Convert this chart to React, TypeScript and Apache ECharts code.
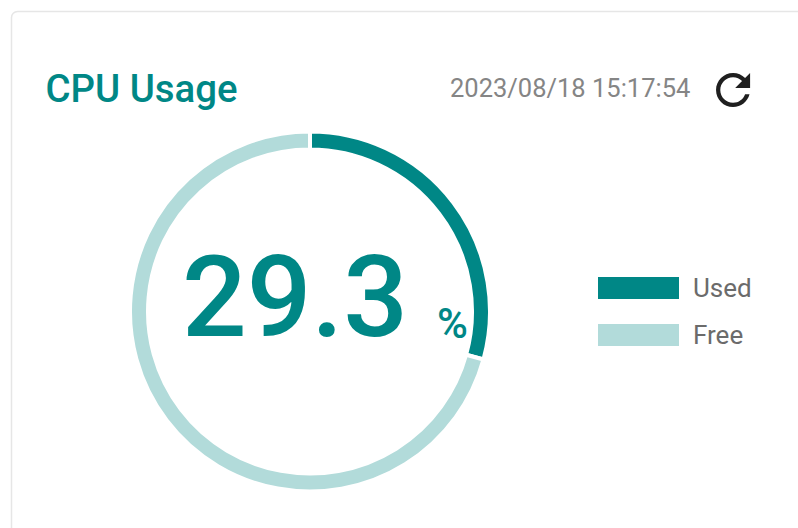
import React, { useEffect, useRef } from "react";
import * as echarts from "echarts";

const sliceNames = ["Used", "Free"];
const sliceValues = [29.3, 70.7];
const sliceColors = ["#008786", "#b2dbda"];
const titleText = "CPU Usage";
const timestampText = "2023/08/18 15:17:54";
const centerValue = "29.3";
const centerUnit = "%";
const refreshIcon =
  "M17.65 6.35C16.2 4.9 14.21 4 12 4c-4.42 0-7.99 3.58-7.99 8s3.57 8 7.99 8c3.73 0 6.84-2.55 7.73-6h-2.08c-.82 2.33-3.04 4-5.65 4-3.31 0-6-2.69-6-6s2.69-6 6-6c1.66 0 3.14.69 4.22 1.78L13 11h7V4l-2.35 2.35z";

echarts.graphic.registerShape("refreshIcon", echarts.graphic.extendPath(refreshIcon, {}) as any);

export default function App() {
  const ref = useRef<HTMLDivElement>(null);
  useEffect(() => {
    const chart = echarts.init(ref.current!, undefined, { renderer: "svg" });
    chart.setOption({
      animation: false,
      backgroundColor: "#ffffff",
      textStyle: { fontFamily: "Roboto" },
      legend: {
        orient: "vertical",
        left: 593,
        top: 270,
        itemWidth: 81,
        itemHeight: 22,
        itemGap: 21,
        selectedMode: false,
        icon: "rect",
        itemStyle: { borderWidth: 0 },
        textStyle: { color: "#6b6b6b", fontSize: 26, lineHeight: 22, fontFamily: "Roboto", padding: [0, 0, 0, 9] },
        data: sliceNames,
      },
      series: [
        {
          type: "pie",
          center: [310, 311.5],
          radius: [162, 180],
          startAngle: 90,
          clockwise: true,
          silent: true,
          label: { show: false },
          labelLine: { show: false },
          itemStyle: { borderColor: "#ffffff", borderWidth: 4 },
          data: sliceNames.map((name, i) => ({
            name,
            value: sliceValues[i],
            itemStyle: { color: sliceColors[i] },
          })),
        },
      ],
      graphic: [
        {
          type: "rect",
          z: -1,
          shape: { x: 11.5, y: 11.5, width: 900, height: 700, r: 6 },
          style: { fill: "#ffffff", stroke: "#e6e6e6", lineWidth: 1.5 },
        },
        {
          type: "text",
          x: 45.5,
          y: 88,
          style: { text: titleText, fill: "#008786", fontFamily: "Roboto", fontWeight: 500, fontSize: 38.4, textVerticalAlign: "middle" },
        },
        {
          type: "text",
          x: 450,
          y: 88,
          style: { text: timestampText, fill: "#858585", fontFamily: "Roboto", fontSize: 25.5, textVerticalAlign: "middle" },
        },
        {
          type: "refreshIcon",
          x: 707.5,
          y: 64.5,
          scaleX: 2.13,
          scaleY: 2.13,
          style: { fill: "#1f1f1f" },
        },
        {
          type: "text",
          x: 182,
          y: 297,
          style: { text: centerValue, fill: "#008786", fontFamily: "Roboto", fontWeight: 500, fontSize: 114, textVerticalAlign: "middle" },
        },
        {
          type: "text",
          x: 437,
          y: 323,
          style: { text: centerUnit, fill: "#008786", fontFamily: "Roboto", fontWeight: 500, fontSize: 42, textVerticalAlign: "middle" },
        },
      ],
    });
    return () => chart.dispose();
  }, []);
  return <div ref={ref} style={{ position: "fixed", left: 0, top: 0, width: 798, height: 528 }} />;
}
